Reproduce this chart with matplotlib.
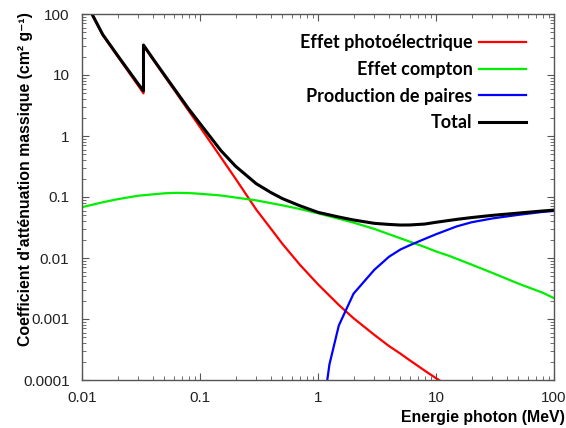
import numpy as np
import matplotlib
matplotlib.use("Agg")
import matplotlib.pyplot as plt
from matplotlib.ticker import LogLocator, NullFormatter, FixedLocator

# energies (MeV) and mass attenuation values (cm2/g)
photo_e = [0.01, 0.015, 0.02, 0.03, 0.0332, 0.0332, 0.04, 0.05, 0.06, 0.08, 0.1, 0.15,
           0.2, 0.3, 0.4, 0.5, 0.7, 1, 1.5, 2, 3, 4, 5, 6, 8, 10, 12]
photo = [200, 45, 20.3, 6.66, 5.0, 30, 17.9, 9.6, 5.8, 2.6, 1.4, 0.45,
         0.20, 0.062, 0.030, 0.017, 0.0078, 0.0037, 0.0017, 0.00103, 0.00055,
         0.00036, 0.00027, 0.00021, 0.000143, 0.000107, 0.000086]

compton_e = [0.01, 0.015, 0.02, 0.03, 0.05, 0.0635, 0.08, 0.1, 0.15, 0.2, 0.3, 0.5,
             0.7, 1, 1.5, 2, 3, 5, 8, 10, 13, 20, 30, 50, 80, 100]
compton = [0.068, 0.082, 0.092, 0.105, 0.115, 0.117, 0.116, 0.113, 0.106, 0.098,
           0.088, 0.073, 0.0636, 0.054, 0.044, 0.038, 0.030, 0.021, 0.0152, 0.0128,
           0.0108, 0.0078, 0.0057, 0.0038, 0.0027, 0.0022]

pair_e = [1.1, 1.25, 1.5, 2, 3, 4, 5, 6, 8, 10, 15, 20, 30, 50, 80, 100]
pair = [0.00003, 0.00018, 0.00078, 0.0026, 0.0064, 0.0105, 0.0138, 0.0162, 0.0205,
        0.0245, 0.033, 0.0385, 0.0445, 0.051, 0.057, 0.059]

total_e = [0.01, 0.015, 0.02, 0.03, 0.0332, 0.0332, 0.04, 0.05, 0.06, 0.08, 0.1, 0.15,
           0.2, 0.3, 0.4, 0.5, 0.7, 1, 1.5, 2, 3, 4, 5, 6, 8, 10, 15, 20, 30, 50, 80, 100]
total = [205, 46, 21, 7.1, 5.5, 31, 18.4, 10.0, 6.1, 2.8, 1.6, 0.58,
         0.32, 0.165, 0.118, 0.094, 0.072, 0.056, 0.047, 0.042, 0.037, 0.0355,
         0.0347, 0.0348, 0.036, 0.0385, 0.043, 0.046, 0.050, 0.0545, 0.059, 0.061]

labels = ["Effet photoélectrique", "Effet compton", "Production de paires", "Total"]

x_ticks = [0.01, 0.1, 1, 10, 100]
x_ticklabels = ["0.01", "0.1", "1", "10", "100"]
y_ticks = [0.0001, 0.001, 0.01, 0.1, 1, 10, 100]
y_ticklabels = ["0.0001", "0.001", "0.01", "0.1", "1", "10", "100"]

plt.rcParams["font.family"] = ["Liberation Sans", "DejaVu Sans"]

fig = plt.figure(figsize=(5.66, 4.28), dpi=100)
ax = fig.add_axes([82 / 566, 1 - 380 / 428, 472 / 566, 366 / 428])

ax.plot(photo_e, photo, color="#ff0000", lw=1.6, label=labels[0])
ax.plot(compton_e, compton, color="#00ee00", lw=1.6, label=labels[1])
ax.plot(pair_e, pair, color="#0000ff", lw=1.6, label=labels[2])
ax.plot(total_e, total, color="black", lw=2.2, label=labels[3])

ax.set_xscale("log")
ax.set_yscale("log")
ax.set_xlim(0.01, 100)
ax.set_ylim(0.0001, 100)

ax.xaxis.set_major_locator(FixedLocator(x_ticks))
ax.set_xticklabels(x_ticklabels)
ax.yaxis.set_major_locator(FixedLocator(y_ticks))
ax.set_yticklabels(y_ticklabels)
for axis in (ax.xaxis, ax.yaxis):
    axis.set_minor_locator(LogLocator(base=10, subs=np.arange(2, 10), numticks=20))
    axis.set_minor_formatter(NullFormatter())

ax.tick_params(which="both", direction="in", top=True, right=True, color="#555555",
               labelsize=11, labelcolor="#222222")
ax.tick_params(which="major", length=5, width=0.8)
ax.tick_params(which="minor", length=3, width=0.6)
ax.tick_params(axis="x", pad=8)
ax.tick_params(axis="y", pad=9)
for s in ax.spines.values():
    s.set_color("#555555")
    s.set_linewidth(1.0)

ax.set_xlabel("Energie photon (MeV)", fontsize=11.4, fontweight="bold", ha="right")
ax.xaxis.set_label_coords(1.022, -0.082)
ax.set_ylabel("Coefficient d'atténuation massique (cm² g⁻¹)",
              fontsize=11.4, fontweight="bold")
ax.yaxis.set_label_coords(-0.104, 0.55)

ax.legend(loc="upper right", bbox_to_anchor=(0.9407, 0.945), frameon=False,
          markerfirst=False, handlelength=2.6, handletextpad=0.35, labelspacing=0.54,
          borderpad=0, borderaxespad=0,
          prop={"family": "Lato", "weight": "bold", "size": 13})

fig.savefig("out.png", dpi=100)
